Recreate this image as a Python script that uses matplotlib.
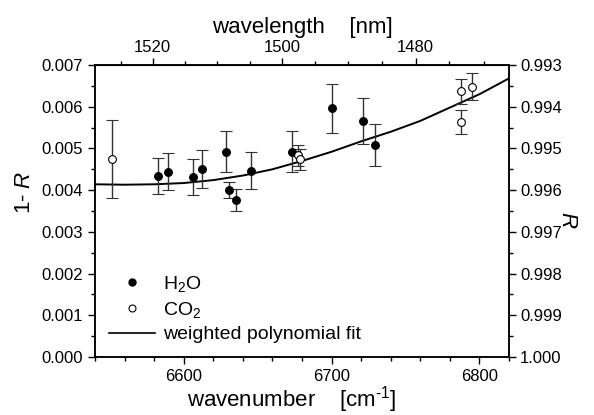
import numpy as np
import matplotlib
matplotlib.use("Agg")
import matplotlib.pyplot as plt
from matplotlib.ticker import MultipleLocator, FixedLocator

plt.rcParams['font.family'] = ['Liberation Sans', 'DejaVu Sans']
plt.rcParams['mathtext.fontset'] = 'custom'
plt.rcParams['mathtext.rm'] = 'Liberation Sans'
plt.rcParams['mathtext.it'] = 'Liberation Sans:italic'

# H2O measurements: wavenumber [cm-1], 1-R, error
h2o_wn = [6582.4, 6589.6, 6606.4, 6612.3, 6628.3, 6630.3, 6635.3, 6645.2,
          6673.1, 6700.1, 6721.1, 6729.2]
h2o_val = [0.00434, 0.00444, 0.00431, 0.00451, 0.00492, 0.00400, 0.00376,
           0.00447, 0.00492, 0.00596, 0.00566, 0.00508]
h2o_err = [0.00044, 0.00044, 0.00043, 0.00045, 0.00049, 0.00020, 0.00026,
           0.00045, 0.00049, 0.00059, 0.00056, 0.00050]

# CO2 measurements
co2_wn = [6551.7, 6677.3, 6678.5, 6787.7, 6787.7, 6794.9]
co2_val = [0.00474, 0.00484, 0.00474, 0.00637, 0.00563, 0.00648]
co2_err = [0.00094, 0.00025, 0.00025, 0.00030, 0.00028, 0.00032]

# weighted polynomial fit
fit_wn = [6540, 6560, 6580, 6600, 6620, 6640, 6660, 6680, 6700, 6720,
          6740, 6760, 6780, 6800, 6820]
fit_val = [0.00414, 0.00413, 0.00414, 0.00417, 0.00424, 0.00435, 0.00450,
           0.00470, 0.00492, 0.00517, 0.00540, 0.00566, 0.00598, 0.00630,
           0.00668]

x_ticks = [6600, 6700, 6800]
y_ticks = [0.000, 0.001, 0.002, 0.003, 0.004, 0.005, 0.006, 0.007]
r_ticks = [0.993, 0.994, 0.995, 0.996, 0.997, 0.998, 0.999, 1.000]
nm_ticks = [1520, 1500, 1480]

fig = plt.figure(figsize=(5.94, 4.15), dpi=100)
ax = fig.add_axes([0.160, 0.1398, 0.697, 0.7036])

ebkw = dict(ecolor='#333333', elinewidth=1.0, capsize=4, capthick=1.0,
            linestyle='none')
ax.errorbar(h2o_wn, h2o_val, yerr=h2o_err, marker='o', ms=5.6,
            mfc='black', mec='black', mew=0.8, zorder=3, **ebkw)
ax.errorbar(co2_wn, co2_val, yerr=co2_err, marker='o', ms=5.6,
            mfc='white', mec='black', mew=0.8, zorder=3, **ebkw)
ax.plot(fit_wn, fit_val, color='black', lw=1.4, zorder=2)

ax.set_xlim(6540, 6820)
ax.set_ylim(0.0, 0.007)
ax.xaxis.set_major_locator(FixedLocator(x_ticks))
ax.xaxis.set_minor_locator(MultipleLocator(20))
ax.yaxis.set_major_locator(FixedLocator(y_ticks))
ax.yaxis.set_minor_locator(MultipleLocator(0.0005))
ax.set_yticklabels([f"{v:.3f}" for v in y_ticks])

for s in ax.spines.values():
    s.set_linewidth(1.1)
ax.tick_params(which='major', direction='out', length=5, width=1.0,
               labelsize=12, pad=3.5)
ax.tick_params(which='minor', direction='out', length=3, width=1.0)
ax.tick_params(axis='x', which='both', top=False)
ax.tick_params(axis='y', which='both', right=False)

ax.set_xlabel('wavenumber    [cm$^{\\text{-1}}$]', fontsize=16)
ax.xaxis.set_label_coords(0.475, -0.092)
ax.set_ylabel('1- $\\it{R}$', fontsize=16)
ax.yaxis.set_label_coords(-0.145, 0.565)

# right axis: R
ax2 = ax.twinx()
ax2.set_ylim(1.0, 0.993)
ax2.yaxis.set_major_locator(FixedLocator(r_ticks))
ax2.yaxis.set_minor_locator(MultipleLocator(0.0005))
ax2.set_yticklabels([f"{v:.3f}" for v in r_ticks])
ax2.tick_params(which='major', direction='out', length=5, width=1.0,
                labelsize=12, pad=3)
ax2.tick_params(which='minor', direction='out', length=3, width=1.0)
ax2.set_ylabel('$\\it{R}$', fontsize=16, rotation=-90, va='center', ha='center')
ax2.yaxis.set_label_coords(1.14, 0.47)
for s in ax2.spines.values():
    s.set_linewidth(1.1)

# top axis: wavelength
sec = ax.secondary_xaxis('top', functions=(lambda x: 1e7 / np.asarray(x, float),
                                           lambda x: 1e7 / np.asarray(x, float)))
sec.xaxis.set_major_locator(FixedLocator(nm_ticks))
sec.xaxis.set_minor_locator(MultipleLocator(5))
sec.tick_params(which='major', direction='out', length=5, width=1.0,
                labelsize=12, pad=2)
sec.tick_params(which='minor', direction='out', length=3, width=1.0)
sec.set_xlabel('wavelength    [nm]', fontsize=16, labelpad=5)

# legend
h1 = ax.plot([], [], 'o', color='black', ms=5)[0]
h2 = ax.plot([], [], 'o', mfc='white', mec='black', ms=5, mew=0.8)[0]
h3 = ax.plot([], [], '-', color='black', lw=1.2)[0]
ax.legend([h1, h2, h3], ['H$_\\mathregular{2}$O', 'CO$_\\mathregular{2}$',
                          'weighted polynomial fit'],
          loc='lower left', frameon=False, fontsize=14, handlelength=2.4,
          handletextpad=0.4, labelspacing=0.3, borderaxespad=0.3,
          bbox_to_anchor=(0.0, 0.0))

fig.savefig('out.png', dpi=100)
